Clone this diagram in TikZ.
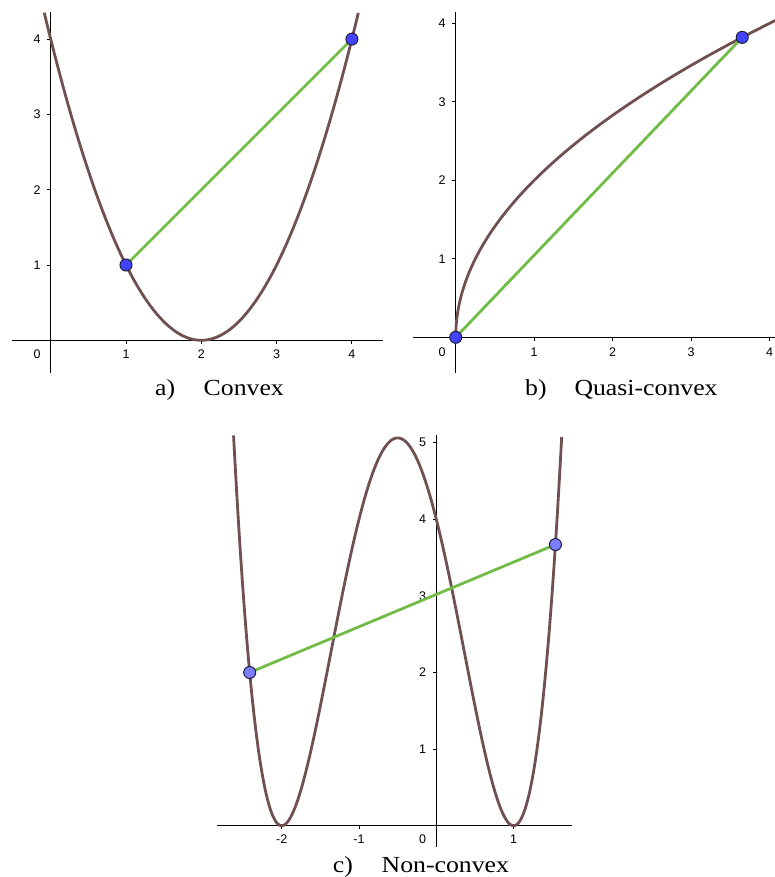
\documentclass[tikz,border=0pt]{standalone}
\usepackage{fontspec}
\setmainfont{Liberation Serif}
\newfontfamily\axfont{Liberation Sans}
\newfontfamily\capfont{Liberation Serif}[FakeStretch=1.12]
\definecolor{curvec}{RGB}{112,80,80}
\definecolor{chordc}{RGB}{112,188,70}
\definecolor{ptblue}{RGB}{68,68,255}
\definecolor{ptlight}{RGB}{125,125,255}
\definecolor{ptedge}{RGB}{30,30,60}
\begin{document}
\begin{tikzpicture}[x=1pt,y=-1pt,
  axis/.style={line width=1.1pt, black},
  tk/.style={line width=1pt, black},
  fn/.style={line width=2.8pt, curvec},
  chord/.style={line width=2.8pt, chordc},
  pt/.style={circle, draw=ptedge, line width=1pt, fill=ptblue, inner sep=0pt, minimum size=12pt},
  ptc/.style={pt, fill=ptlight},
  lab/.style={font=\axfont\fontsize{12.5}{12.5}\selectfont, inner sep=0pt},
  captxt/.style={font=\capfont\fontsize{23}{23}\selectfont, inner sep=0pt, anchor=base west}]
\useasboundingbox (0,0) rectangle (774,877);

% ---------- panel a ----------
\draw[axis] (12,340.3) -- (382.7,340.3);
\draw[axis] (50.7,12) -- (50.7,373);
\begin{scope}[shift={(50.7pt,-340.3pt)}, x=75.3pt, y=75.3pt]
  \foreach \i in {1,2,3,4} {
    \draw[tk] (\i,0) -- ++(0pt,-3.5pt);
    \draw[tk] (0,\i) -- ++(-3.5pt,0pt);
    \node[lab, anchor=base] (ax\i) at ([yshift=-18.5pt]\i,0) {\i};
    \node[lab, anchor=east] (ay\i) at ([xshift=-10pt]0,\i) {\i};
  }
  \node[lab, anchor=base east] (a0) at ([xshift=-10pt,yshift=-18.5pt]0,0) {0};
  \draw[fn, domain=-0.086:4.086, samples=120] plot (\x, {(\x-2)*(\x-2)});
  \coordinate (A1) at (1,1);
  \coordinate (A2) at (4,4);
  \draw[chord] (A1) -- (A2);
  \node[pt] (PA1) at (A1) {};
  \node[pt] (PA2) at (A2) {};
\end{scope}
\node[captxt] (capa) at (155,395.5) {a)};
\node[captxt] (capat) at (203.5,395.5) {Convex};

% ---------- panel b ----------
\draw[axis] (412.7,337.3) -- (780,337.3);
\draw[axis] (455.7,12) -- (455.7,373);
\begin{scope}[shift={(455.7pt,-337.3pt)}, x=78.5pt, y=78.5pt]
  \foreach \i in {1,2,3,4} {
    \draw[tk] (\i,0) -- ++(0pt,-3.5pt);
    \draw[tk] (0,\i) -- ++(-3.5pt,0pt);
    \node[lab, anchor=base] (bx\i) at ([yshift=-19pt]\i,0) {\i};
    \node[lab, anchor=east] (by\i) at ([xshift=-10pt]0,\i) {\i};
  }
  \node[lab, anchor=base east] (b0) at ([xshift=-10pt,yshift=-19pt]0,0) {0};
  \draw[fn, domain=0:4.1, samples=120, variable=\t] plot ({\t*\t/4}, \t);
  \coordinate (B1) at (0,0);
  \coordinate (B2) at (3.65,3.821);
  \draw[chord] (B1) -- (B2);
  \node[pt] (PB1) at (B1) {};
  \node[pt] (PB2) at (B2) {};
\end{scope}
\node[captxt] (capb) at (525,395.5) {b)};
\node[captxt] (capbt) at (574.3,395.5) {Quasi-convex};

% ---------- panel c ----------
\draw[axis] (217.3,825.7) -- (572,825.7);
\draw[axis] (436.3,435) -- (436.3,846.7);
\begin{scope}[shift={(436.3pt,-825.7pt)}, x=77.3pt, y=76.6pt]
  \foreach \i in {-2,-1,1} {
    \draw[tk] (\i,0) -- ++(0pt,-3.5pt);
    \node[lab, anchor=base] (cx\i) at ([yshift=-18pt]\i,0) {\i};
  }
  \foreach \i in {1,2,3,4,5} {
    \draw[tk] (0,\i) -- ++(-3.5pt,0pt);
    \node[lab, anchor=east] (cy\i) at ([xshift=-10pt]0,\i) {\i};
  }
  \node[lab, anchor=base east] (c0) at ([xshift=-10pt,yshift=-17.5pt]0,0) {0};
  \draw[fn, domain=-2.623:1.623, samples=240] plot (\x, {((\x+2)*(\x-1))*((\x+2)*(\x-1))});
  \coordinate (C1) at (-2.414,2);
  \coordinate (C2) at (1.541,3.67);
  \draw[chord] (C1) -- (C2);
  \node[ptc] (PC1) at (C1) {};
  \node[ptc] (PC2) at (C2) {};
\end{scope}
\node[captxt] (capc) at (332.7,872.3) {c)};
\node[captxt] (capct) at (381.5,872.3) {Non-convex};
\end{tikzpicture}
\end{document}
